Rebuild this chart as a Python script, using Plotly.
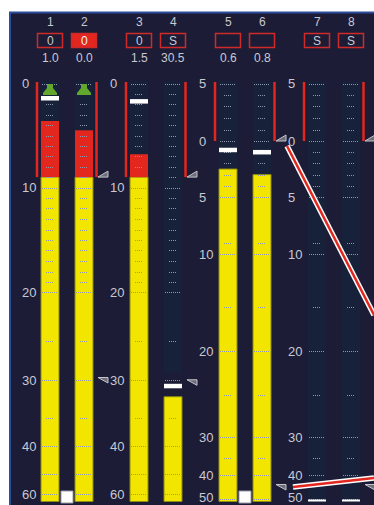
import numpy as np
import plotly.graph_objects as go

W, H = 374, 505

# ---------------- data ----------------
channels = ["1", "2", "3", "4", "5", "6", "7", "8"]
box_labels = ["0", "0", "0", "S", "", "", "S", "S"]
box_lit = [False, True, False, False, False, False, False, False]
peak_text = ["1.0", "0.0", "1.5", "30.5", "0.6", "0.8", "", ""]
peak_db = [-1.0, 0.0, -1.5, -30.5, -0.6, -0.8, None, None]
level_db = [-3.6, -4.5, -6.8, -32.2, -2.5, -3.0, None, None]
clip = [True, True, False, False, False, False, False, False]
channel_scale = ["L", "L", "L", "L", "R", "R", "R", "R"]

pair_scale = ["L", "L", "R", "R"]
pair_threshold_db = [-9, -9, 0, 0]
pair_gate_db = [-30, -30.3, -45, -45]
pair_link = [True, False, True, False]

# scale definitions (dB -> meter position)
scale_db = {"L": [0, -10, -20, -25, -30, -35, -40, -50, -60],
            "R": [5, 0, -5, -10, -15, -20, -25, -30, -35, -40, -50]}
scale_pos = {"L": [83.5, 187.5, 292.5, 341, 380, 418, 446, 474, 494],
             "R": [83.5, 141, 197, 254, 307, 351, 395, 437, 458, 475, 499]}
scale_label_db = {"L": [0, -10, -20, -30, -40, -60],
                  "R": [5, 0, -5, -10, -20, -30, -40, -50]}
scale_label_text = {"L": ["0", "10", "20", "30", "40", "60"],
                    "R": ["5", "0", "5", "10", "20", "30", "40", "50"]}
major_ticks = {"L": [0, -10, -20, -30, -40, -50, -60],
               "R": [5, 0, -5, -10, -20, -30, -40, -50]}
minor_ticks = {"L": [-1, -2, -3, -4, -5, -6, -7, -8, -9, -11, -12, -13, -14, -15,
                     -16, -17, -18, -19, -25, -35],
               "R": [4, 3, 2, 1, -1, -2, -3, -4, -9, -15, -25, -35]}

# overlay drag lines (right scale dB, start -> end)
drag_lines_db = [(-0.45, -15.9), (-45.0, -41.25)]

# ---------------- layout constants ----------------
CH_X = [50, 84, 139, 173, 228, 262, 317, 351]
HALF = 9
METER_TOP = 81.5
METER_BOT = 501.5
SCALE_LABEL_X = [20, 108, 197, 286]
SCALE_GROUP = ["L", "L", "R", "R"]

PANEL = "#1c1c36"
TRACK = "#17223a"
YELLOW = "#f2e600"
RED = "#e3261e"
TXT = "#c9c9d2"
TICK = "#8e96ab"
FONT = "Liberation Sans"
CLIP_H = 11


def pos(db, s):
    return float(np.interp(-db, -np.array(scale_db[s], float), scale_pos[s]))


fig = go.Figure()
shapes = []
ann = []

# panel
shapes.append(dict(type="rect", xref="x", yref="y", x0=10, y0=12.5, x1=390, y1=520,
                   fillcolor=PANEL, line=dict(color="#2c4c9c", width=2), layer="below"))

# tracks (unlit segments end a little above the peak hold when the gate is closed)
for i, c in enumerate(CH_X):
    s = channel_scale[i]
    shapes.append(dict(type="rect", x0=c - HALF, x1=c + HALF, y0=METER_TOP, y1=METER_BOT,
                       fillcolor=TRACK, line=dict(width=0), layer="below"))
    lv = level_db[i]
    if lv is not None and lv < pair_gate_db[i // 2]:
        shapes.append(dict(type="rect", x0=c - HALF, x1=c + HALF, y0=pos(peak_db[i], s) - 11,
                           y1=pos(lv, s), fillcolor=PANEL, line=dict(width=0), layer="below"))

# meter bars
yx, yb, yl, rx, rb, rl = [], [], [], [], [], []
for i, c in enumerate(CH_X):
    lv = level_db[i]
    if lv is None:
        continue
    s = channel_scale[i]
    thr = pair_threshold_db[i // 2]
    ytop = pos(min(lv, thr), s)
    yx.append(c); yb.append(ytop); yl.append(METER_BOT - ytop)
    if lv > thr:
        rtop = pos(lv, s)
        rx.append(c); rb.append(rtop); rl.append(pos(thr, s) - rtop)

fig.add_trace(go.Bar(x=yx, y=yl, base=yb, width=2 * HALF,
                     marker=dict(color=YELLOW, line=dict(color="#8f8a10", width=1)),
                     hoverinfo="skip"))
fig.add_trace(go.Bar(x=rx, y=rl, base=rb, width=2 * HALF, marker=dict(color=RED, line=dict(width=0)),
                     hoverinfo="skip"))

# ticks
for kind, dct, hw in (("major", major_ticks, 8), ("minor", minor_ticks, 4)):
    xs, ys = [], []
    for i, c in enumerate(CH_X):
        s = channel_scale[i]
        for d in dct[s]:
            y = round(pos(d, s)) + 0.5
            xs += [c - hw, c + hw, None]
            ys += [y, y, None]
    fig.add_trace(go.Scatter(x=xs, y=ys, mode="lines", hoverinfo="skip",
                             line=dict(color=TICK, width=1, dash="1px,1px")))

# scale labels
for k, lx in enumerate(SCALE_LABEL_X):
    s = SCALE_GROUP[k]
    for d, t in zip(scale_label_db[s], scale_label_text[s]):
        ann.append(dict(x=lx, y=min(pos(d, s), 497), text=t, showarrow=False, xanchor="left",
                        yanchor="middle", font=dict(family=FONT, size=13, color=TXT)))

# channel headers
for i, c in enumerate(CH_X):
    ann.append(dict(x=c, y=21.5, text=channels[i], showarrow=False, xanchor="center", yanchor="middle",
                    font=dict(family=FONT, size=12, color=TXT)))
    shapes.append(dict(type="rect", x0=c - 12.5, x1=c + 12.5, y0=33.5, y1=47.5,
                       fillcolor=RED if box_lit[i] else "rgba(0,0,0,0)",
                       line=dict(color="#cf2a2a", width=1.5), layer="above"))
    if box_labels[i]:
        ann.append(dict(x=c, y=40.5, text=box_labels[i], showarrow=False, xanchor="center", yanchor="middle",
                        font=dict(family=FONT, size=12, color="#f0f0f0" if box_lit[i] else TXT)))
    if peak_text[i]:
        ann.append(dict(x=c, y=57.5, text=peak_text[i], showarrow=False, xanchor="center", yanchor="middle",
                        font=dict(family=FONT, size=12, color=TXT)))

# peak hold markers
for i, c in enumerate(CH_X):
    s = channel_scale[i]
    if peak_db[i] is None:
        y0, y1 = METER_BOT - 2, METER_BOT
    else:
        if clip[i] and peak_db[i] >= 0:
            continue  # hidden under the clip marker
        y0 = pos(peak_db[i], s)
        if clip[i]:
            y0 = max(y0, METER_TOP + 2.5 + CLIP_H + 1)
        y1 = y0 + 4.5
    shapes.append(dict(type="rect", x0=c - HALF, x1=c + HALF, y0=y0, y1=y1,
                       fillcolor="#ffffff", line=dict(width=0), layer="above"))

# clip markers
for i, c in enumerate(CH_X):
    if clip[i]:
        t = METER_TOP + 2.5
        p = (f"M{c-3},{t} L{c+3},{t} L{c+3},{t+4} L{c+7},{t+9} L{c+7},{t+CLIP_H} "
             f"L{c-7},{t+CLIP_H} L{c-7},{t+9} L{c-3},{t+4} Z")
        shapes.append(dict(type="path", path=p, fillcolor="#62a82c", line=dict(width=0), layer="above"))

# pair markers
for p in range(4):
    s = pair_scale[p]
    xl = CH_X[2 * p] - HALF - 4
    xr = CH_X[2 * p + 1] + HALF + 3.5
    yt = pos(pair_threshold_db[p], s)
    for xx in (xl, xr):
        shapes.append(dict(type="line", x0=xx, x1=xx, y0=METER_TOP + 0.5, y1=yt,
                           line=dict(color=RED, width=2.5), layer="above"))
    shapes.append(dict(type="path", path=f"M{xr+1.5},{yt} L{xr+11.5},{yt} L{xr+11.5},{yt-6} Z",
                       fillcolor="#6c6c7c", line=dict(color="#c4c4c8", width=1), layer="above"))
    yg = pos(pair_gate_db[p], s)
    shapes.append(dict(type="path", path=f"M{xr+1.5},{yg-2.5} L{xr+11.5},{yg-2.5} L{xr+11.5},{yg+3} Z",
                       fillcolor="#6c6c7c", line=dict(color="#c4c4c8", width=1), layer="above"))
    if pair_link[p]:
        cx = (CH_X[2 * p] + CH_X[2 * p + 1]) / 2
        shapes.append(dict(type="rect", x0=cx - 6, x1=cx + 6, y0=491, y1=503,
                           fillcolor="#ffffff", line=dict(color="#9a9aa6", width=1), layer="above"))

# drag lines
starts_x = [287, 293]
for (d0, d1), sx in zip(drag_lines_db, starts_x):
    y0, y1 = pos(d0, "R"), pos(d1, "R")
    for col, w in (("#ffffff", 5.5), (RED, 2.5)):
        shapes.append(dict(type="line", x0=sx, x1=374, y0=y0, y1=y1,
                           line=dict(color=col, width=w), layer="above"))

fig.update_layout(
    width=W, height=H, margin=dict(l=0, r=0, t=0, b=0),
    paper_bgcolor="#ffffff", plot_bgcolor="#ffffff",
    barmode="overlay", showlegend=False, hovermode=False,
    xaxis=dict(range=[0, W], visible=False, fixedrange=True),
    yaxis=dict(range=[H, 0], visible=False, fixedrange=True),
    shapes=shapes, annotations=ann,
)

fig.write_html("out.html", config={"displayModeBar": False},
               post_script="document.body.style.margin='0';document.body.style.overflow='hidden';")
